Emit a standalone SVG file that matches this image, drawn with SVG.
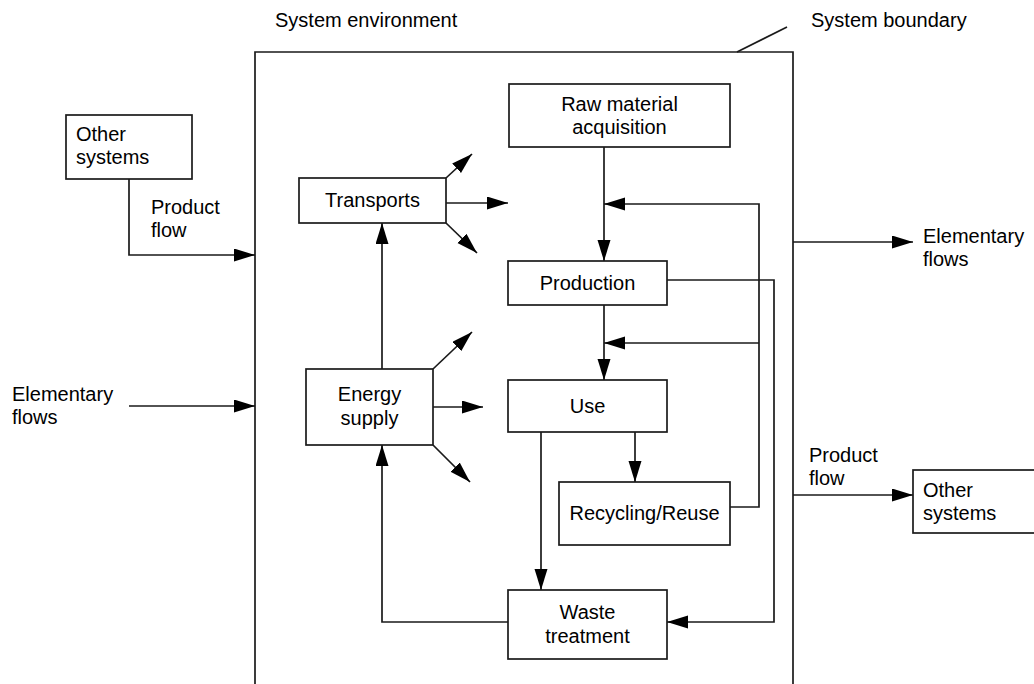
<svg xmlns="http://www.w3.org/2000/svg" width="1034" height="684" viewBox="0 0 1034 684">
<style>
.box{fill:#fff;stroke:#1a1a1a;stroke-width:1.7}
.ln{fill:none;stroke:#1a1a1a;stroke-width:1.7}
.arr{marker-end:url(#ah)}
text{font-family:"Liberation Sans",Arial,sans-serif;font-size:20px;fill:#000}
.c{text-anchor:middle}
</style>
<defs>
<marker id="ah" markerUnits="userSpaceOnUse" markerWidth="22" markerHeight="14" refX="21" refY="6.5" orient="auto">
<path d="M0,0 L21,6.5 L0,13 z" fill="#000"/>
</marker>
</defs>
<rect width="1034" height="684" fill="#fff"/>
<g id="labels">
<text x="275" y="27">System environment</text>
<text x="811" y="27">System boundary</text>
<text x="151" y="214">Product</text>
<text x="151" y="237">flow</text>
<text x="12" y="401">Elementary</text>
<text x="12" y="424">flows</text>
<text x="923" y="243">Elementary</text>
<text x="923" y="266">flows</text>
<text x="809" y="462">Product</text>
<text x="809" y="485">flow</text>
</g>
<g id="system-boundary">
<path class="ln" d="M255,690 V52 H793 V690"/>
<path class="ln" d="M737,52 L787,27"/>
</g>
<g id="connectors">
<path class="ln arr" d="M129,179 V255 H255"/>
<path class="ln arr" d="M129,406 H255"/>
<path class="ln arr" d="M446,203 H508"/>
<path class="ln arr" d="M446,178 L472,154"/>
<path class="ln arr" d="M446,223 L477,253"/>
<path class="ln arr" d="M382,369 V223"/>
<path class="ln arr" d="M433,407 H483"/>
<path class="ln arr" d="M433,369 L472,332"/>
<path class="ln arr" d="M433,445 L470,482"/>
<path class="ln arr" d="M508,622 H382 V445"/>
<path class="ln arr" d="M604,147 V261"/>
<path class="ln arr" d="M730,507 H759 V204 H604"/>
<path class="ln arr" d="M759,343 H604"/>
<path class="ln arr" d="M604,305 V380"/>
<path class="ln arr" d="M667,280 H774 V622 H667"/>
<path class="ln arr" d="M635,432 V482"/>
<path class="ln arr" d="M541,432 V590"/>
<path class="ln arr" d="M793,242 H913"/>
<path class="ln arr" d="M793,495 H913"/>
</g>
<g id="other-systems-left">
<rect class="box" x="66" y="115" width="126" height="64"/>
<text x="76" y="141">Other</text>
<text x="76" y="164">systems</text>
</g>
<g id="other-systems-right">
<rect class="box" x="913" y="470" width="140" height="63"/>
<text x="923" y="497">Other</text>
<text x="923" y="520">systems</text>
</g>
<g id="raw-material">
<rect class="box" x="509" y="84" width="221" height="63"/>
<text class="c" x="619.5" y="111">Raw material</text>
<text class="c" x="619.5" y="134">acquisition</text>
</g>
<g id="transports">
<rect class="box" x="299" y="178" width="147" height="45"/>
<text class="c" x="372.5" y="207">Transports</text>
</g>
<g id="production">
<rect class="box" x="508" y="261" width="159" height="44"/>
<text class="c" x="587.5" y="290">Production</text>
</g>
<g id="energy-supply">
<rect class="box" x="306" y="369" width="127" height="76"/>
<text class="c" x="369.5" y="401">Energy</text>
<text class="c" x="369.5" y="425">supply</text>
</g>
<g id="use">
<rect class="box" x="508" y="380" width="159" height="52"/>
<text class="c" x="587.5" y="413">Use</text>
</g>
<g id="recycling">
<rect class="box" x="559" y="482" width="171" height="63"/>
<text class="c" x="644.5" y="520">Recycling/Reuse</text>
</g>
<g id="waste-treatment">
<rect class="box" x="508" y="590" width="159" height="69"/>
<text class="c" x="587.5" y="619">Waste</text>
<text class="c" x="587.5" y="643">treatment</text>
</g>
</svg>
